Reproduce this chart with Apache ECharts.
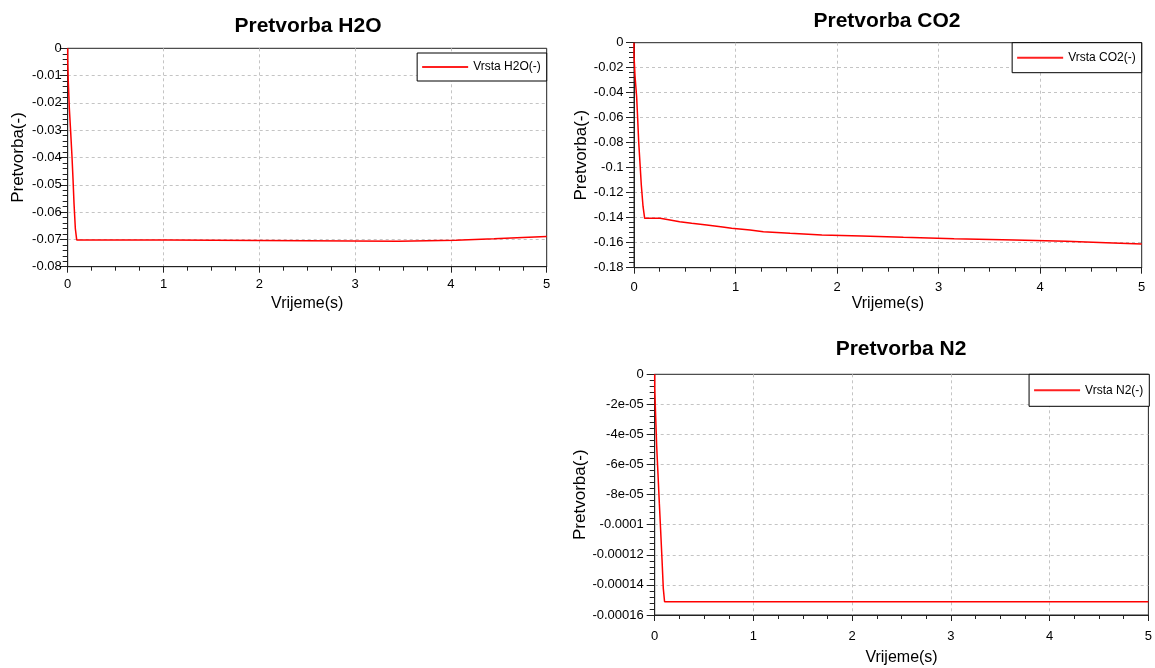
<!DOCTYPE html>
<html>
<head>
<meta charset="utf-8">
<script src="https://cdn.jsdelivr.net/npm/echarts@6/dist/echarts.min.js"></script>
<style>html,body{margin:0;padding:0;background:#fff}#c{width:1155px;height:668px}</style>
</head>
<body>
<div id="c"></div>
<script>
// ---- data ----
var titles = ['Pretvorba H2O', 'Pretvorba CO2', 'Pretvorba N2'];
var seriesNames = ['Vrsta H2O(-)', 'Vrsta CO2(-)', 'Vrsta N2(-)'];
var xName = 'Vrijeme(s)';
var yName = 'Pretvorba(-)';

var h2oTime  = [0, 0, 0.007, 0.017, 0.031, 0.045, 0.056, 0.066, 0.080, 0.094, 1.05, 3.45, 4.05, 4.45, 4.75, 5];
var h2oValue = [0, -0.0047, -0.0128, -0.022, -0.0306, -0.0398, -0.0483, -0.0569, -0.0661, -0.0702, -0.0707, -0.0703, -0.0698, -0.0693, -0.0689, -0.0689];

var co2Time  = [0, 0, 0.01, 0.026, 0.036, 0.046, 0.059, 0.072, 0.089, 0.105, 0.257, 0.355, 0.45, 0.568, 0.716, 0.854, 0.962, 1.143, 1.274, 1.537, 1.85, 2.243, 2.653, 3.153, 3.747, 4.256, 4.65, 5];
var co2Value = [0, -0.0098, -0.0266, -0.0432, -0.0605, -0.079, -0.0965, -0.1138, -0.131, -0.1405, -0.1418, -0.1432, -0.1445, -0.1458, -0.1472, -0.1485, -0.1498, -0.1512, -0.1525, -0.1538, -0.1547, -0.1557, -0.1568, -0.1578, -0.1589, -0.16, -0.161, -0.161];

var n2Time  = [0, 0, 0.01, 0.02, 0.033, 0.047, 0.06, 0.074, 0.087, 0.1, 5];
var n2Value = [0, -0.93e-5, -2.86e-5, -4.77e-5, -6.58e-5, -8.58e-5, -10.35e-5, -12.3e-5, -14.23e-5, -15.12e-5, -15.12e-5];

var xTicks = ['0', '1', '2', '3', '4', '5'];
var h2oYTicks = ['-0.08', '-0.07', '-0.06', '-0.05', '-0.04', '-0.03', '-0.02', '-0.01', '0'];
var co2YTicks = ['-0.18', '-0.16', '-0.14', '-0.12', '-0.1', '-0.08', '-0.06', '-0.04', '-0.02', '0'];
var n2YTicks  = ['-0.00016', '-0.00014', '-0.00012', '-0.0001', '-8e-05', '-6e-05', '-4e-05', '-2e-05', '0'];
var yMins = [-0.08, -0.18, -0.00016];
var yIntervals = [0.01, 0.02, 0.00002];

// ---- layout ----
var grids = [
  {left: 67.7, top: 48.3, width: 479, height: 218.4},
  {left: 634, top: 42.7, width: 507.7, height: 225},
  {left: 654.7, top: 374.3, width: 494.6, height: 240.7}
];
var titlePos = [[308, 16], [887, 11], [901, 339]];
var legendTop = [53, 42.7, 374.3];
var legendPad = [[8, 6, 8, 5], [9, 6, 9, 5], [10, 6, 10, 5]];
var xLabelMargin = [11, 13, 15];
var yLabelMargin = [6, 10.5, 11];
var xNameGap = [29, 28, 35];
var yNameGap = [41, 43, 45];
var yTickArrays = [h2oYTicks, co2YTicks, n2YTicks];
var dataSets = [[h2oTime, h2oValue], [co2Time, co2Value], [n2Time, n2Value]];

// stepped polyline: each value holds until the next time sample
function stepPairs(t, v) {
  var out = [];
  for (var i = 0; i < t.length; i++) {
    out.push([t[i], v[i]]);
    if (i < t.length - 1) out.push([t[i + 1], v[i]]);
  }
  return out;
}

var FONT = 'Liberation Sans, Arial, sans-serif';
var axisColor = '#222';
var option = {
  backgroundColor: '#fff',
  animation: false,
  title: [], legend: [], grid: [], xAxis: [], yAxis: [], series: []
};

for (var k = 0; k < 3; k++) {
  var g = grids[k];
  option.grid.push({left: g.left, top: g.top, width: g.width, height: g.height,
    show: true, borderColor: axisColor, borderWidth: 1, backgroundColor: '#fff'});
  option.title.push({text: titles[k], left: titlePos[k][0], top: titlePos[k][1], textAlign: 'center', padding: 0,
    textStyle: {fontFamily: FONT, fontWeight: 'bold', fontSize: 21, color: '#000'}});
  option.legend.push({data: [seriesNames[k]], right: 1155 - (g.left + g.width), top: legendTop[k],
    orient: 'vertical', icon: 'rect', itemWidth: 46, itemHeight: 2, padding: legendPad[k],
    borderColor: '#000', borderWidth: 1, backgroundColor: '#fff', borderRadius: 0,
    textStyle: {fontFamily: FONT, fontSize: 12, color: '#000'}});
  option.xAxis.push({type: 'value', gridIndex: k, min: 0, max: 5, interval: 1,
    name: xName, nameLocation: 'middle', nameGap: xNameGap[k],
    nameTextStyle: {fontFamily: FONT, fontSize: 16, color: '#000'},
    axisLine: {show: true, onZero: false, lineStyle: {color: axisColor, width: 1}},
    axisTick: {show: true, inside: false, length: 6, lineStyle: {color: axisColor}},
    minorTick: {show: true, splitNumber: 4, length: 4, lineStyle: {color: axisColor}},
    axisLabel: {fontFamily: FONT, fontSize: 13, color: '#000', margin: xLabelMargin[k],
      formatter: function (v) { return xTicks[Math.round(v)]; }},
    splitLine: {show: true, showMinLine: false, showMaxLine: false,
      lineStyle: {color: '#c4c4c4', type: [3, 3], width: 1}}
  });
  option.yAxis.push({type: 'value', gridIndex: k, min: yMins[k], max: 0, interval: yIntervals[k],
    name: yName, nameLocation: 'middle', nameGap: yNameGap[k], nameRotate: 90,
    nameTextStyle: {fontFamily: FONT, fontSize: 17, color: '#000'},
    axisLine: {show: true, onZero: false, lineStyle: {color: axisColor, width: 1}},
    axisTick: {show: true, inside: false, length: 8, lineStyle: {color: axisColor}},
    minorTick: {show: true, splitNumber: 5, length: 5, lineStyle: {color: axisColor}},
    axisLabel: {fontFamily: FONT, fontSize: 13, color: '#000', margin: yLabelMargin[k],
      formatter: (function (kk) { return function (v) {
        var i = Math.round((v - yMins[kk]) / yIntervals[kk]); return yTickArrays[kk][i]; }; })(k)},
    splitLine: {show: true, showMinLine: false, showMaxLine: false,
      lineStyle: {color: '#c4c4c4', type: [3, 3], width: 1}}
  });
  option.series.push({name: seriesNames[k], type: 'line', xAxisIndex: k, yAxisIndex: k,
    showSymbol: false, symbol: 'none', smooth: false,
    lineStyle: {color: '#ff0000', width: 1.5}, itemStyle: {color: '#ff2020'},
    data: stepPairs(dataSets[k][0], dataSets[k][1])});
}

var chart = echarts.init(document.getElementById('c'), null, {renderer: 'canvas'});
chart.setOption(option);
</script>
</body>
</html>
